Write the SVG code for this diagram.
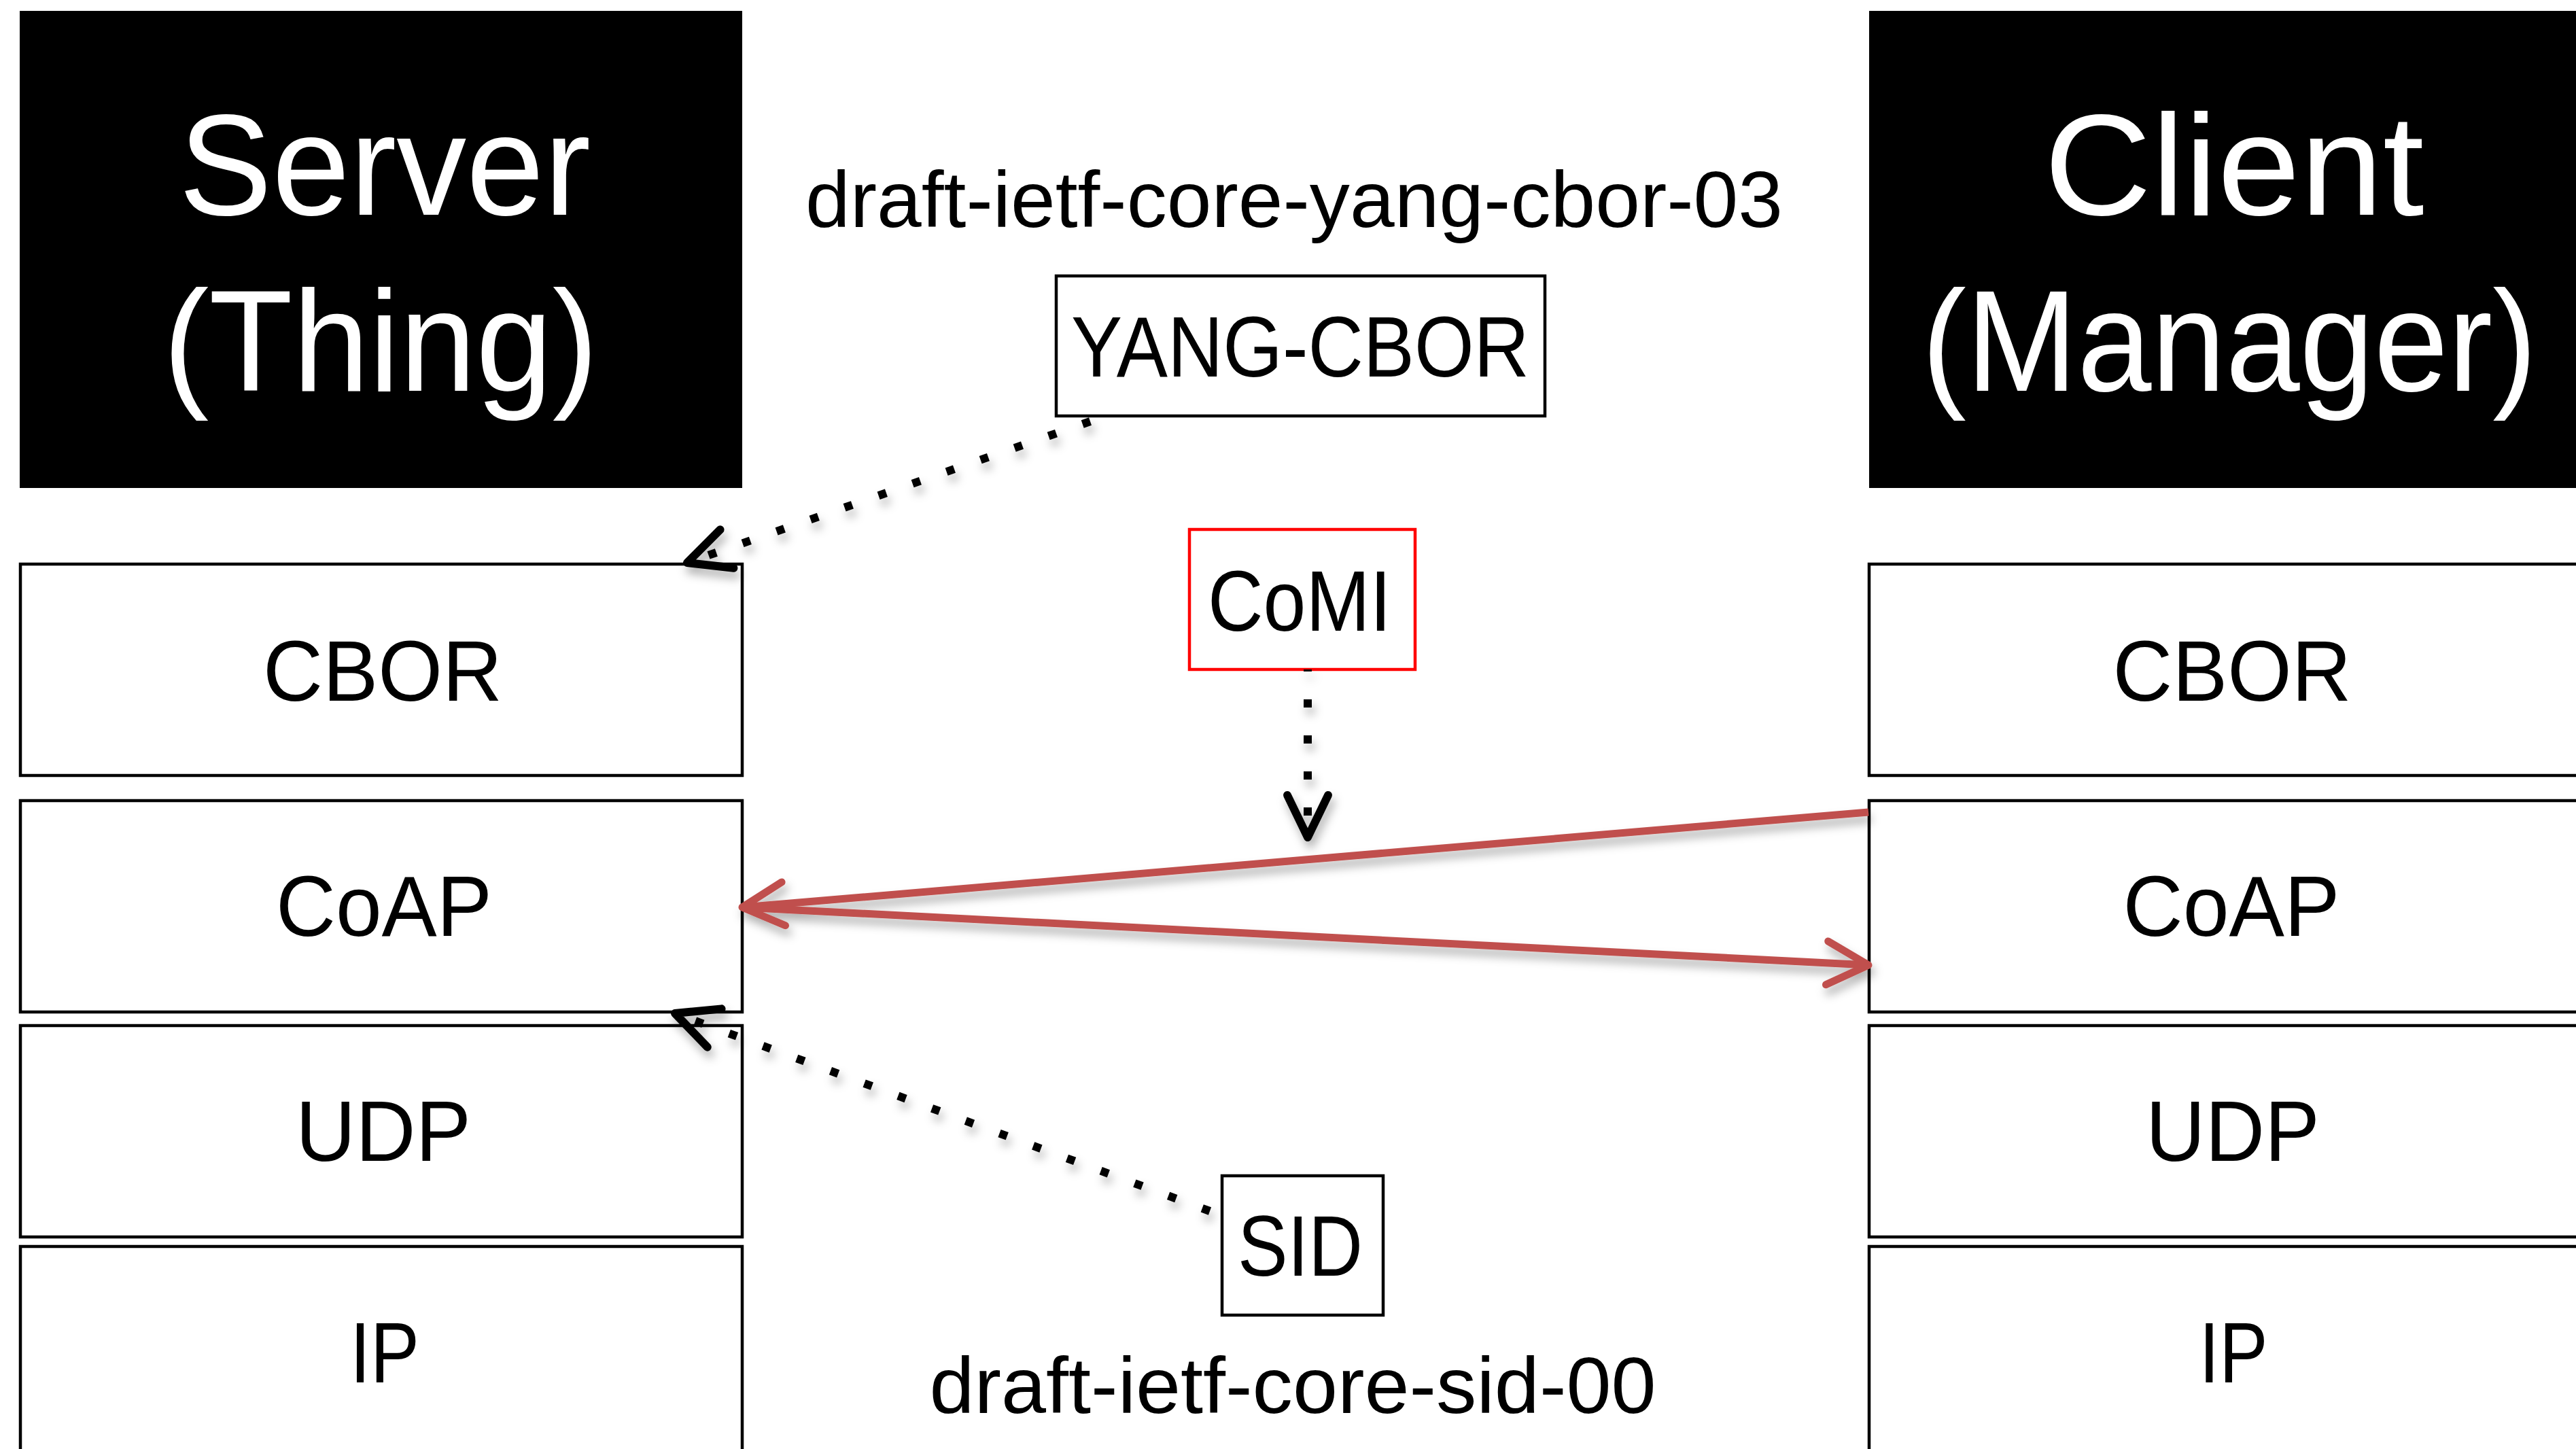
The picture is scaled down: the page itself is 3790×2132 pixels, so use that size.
<svg xmlns="http://www.w3.org/2000/svg" width="3790" height="2132" viewBox="0 0 3790 2132">
  <style>
    .hdr { fill: #000; }
    .hdrtxt { font-family: "Liberation Sans", Arial, sans-serif; font-size: 212px; fill: #fff; text-anchor: middle; }
    .box { fill: #fff; stroke: #000; stroke-width: 4.5; }
    .redbox { fill: #fff; stroke: #ff0000; stroke-width: 4.5; }
    .lbl { font-family: "Liberation Sans", Arial, sans-serif; font-size: 126px; fill: #000; text-anchor: middle; }
    .draft { font-family: "Liberation Sans", Arial, sans-serif; font-size: 117px; fill: #000; text-anchor: middle; }
    .dotted { fill: none; stroke: #000; stroke-width: 12; stroke-dasharray: 12 41; stroke-linecap: butt; }
    .red { fill: none; stroke: #C0504D; stroke-width: 11; stroke-linecap: butt; }
  </style>
  <defs>
    <filter id="shadow" filterUnits="userSpaceOnUse" x="0" y="0" width="3790" height="2132">
      <feDropShadow dx="4" dy="10" stdDeviation="7" flood-color="#000" flood-opacity="0.3"/>
    </filter>
    <marker id="blackHead" markerUnits="userSpaceOnUse" orient="auto" refX="0" refY="0" markerWidth="10" markerHeight="10" overflow="visible">
      <path d="M-62,-30 L0,0 L-62,30" fill="none" stroke="#000" stroke-width="12" stroke-linecap="round" stroke-linejoin="round"/>
    </marker>
    <marker id="redHead" markerUnits="userSpaceOnUse" orient="auto" refX="0" refY="0" markerWidth="10" markerHeight="10" overflow="visible">
      <path d="M-61,-32 L0,0 L-61,32" fill="none" stroke="#C0504D" stroke-width="11" stroke-linecap="round" stroke-linejoin="round"/>
    </marker>
  </defs>

  <rect width="3790" height="2132" fill="#fff"/>

  <g id="server">
    <rect class="hdr" x="29" y="16" width="1063" height="702"/>
    <text class="hdrtxt" x="566" y="316" textLength="606" lengthAdjust="spacingAndGlyphs">Server</text>
    <text class="hdrtxt" x="560" y="575" textLength="640" lengthAdjust="spacingAndGlyphs">(Thing)</text>
  </g>

  <g id="client">
    <rect class="hdr" x="2750" y="16" width="1040" height="702"/>
    <text class="hdrtxt" x="3287" y="316" textLength="559" lengthAdjust="spacingAndGlyphs">Client</text>
    <text class="hdrtxt" x="3280" y="575" textLength="905" lengthAdjust="spacingAndGlyphs">(Manager)</text>
  </g>

  <g id="draft-yang-cbor">
    <text class="draft" x="1904" y="334" textLength="1438" lengthAdjust="spacingAndGlyphs">draft-ietf-core-yang-cbor-03</text>
  </g>

  <g id="yang-cbor">
    <rect class="box" x="1554" y="406" width="719" height="206"/>
    <text class="lbl" x="1913" y="554" textLength="674" lengthAdjust="spacingAndGlyphs">YANG-CBOR</text>
  </g>

  <g id="comi">
    <rect class="redbox" x="1750" y="779" width="332" height="206"/>
    <text class="lbl" x="1912" y="928" textLength="270" lengthAdjust="spacingAndGlyphs">CoMI</text>
  </g>

  <g id="sid">
    <rect class="box" x="1798" y="1730" width="237" height="205"/>
    <text class="lbl" x="1913" y="1877" textLength="184" lengthAdjust="spacingAndGlyphs">SID</text>
  </g>

  <g id="draft-sid">
    <text class="draft" x="1902" y="2079" textLength="1069" lengthAdjust="spacingAndGlyphs">draft-ietf-core-sid-00</text>
  </g>

  <g id="server-cbor">
    <rect class="box" x="30" y="830" width="1062" height="311"/>
    <text class="lbl" x="563" y="1031" textLength="352" lengthAdjust="spacingAndGlyphs">CBOR</text>
  </g>
  <g id="server-coap">
    <rect class="box" x="30" y="1178" width="1062" height="311"/>
    <text class="lbl" x="565" y="1377" textLength="318" lengthAdjust="spacingAndGlyphs">CoAP</text>
  </g>
  <g id="server-udp">
    <rect class="box" x="30" y="1509" width="1062" height="311"/>
    <text class="lbl" x="564" y="1708" textLength="258" lengthAdjust="spacingAndGlyphs">UDP</text>
  </g>
  <g id="server-ip">
    <rect class="box" x="30" y="1834" width="1062" height="330"/>
    <text class="lbl" x="566" y="2034" textLength="102" lengthAdjust="spacingAndGlyphs">IP</text>
  </g>

  <g id="client-cbor">
    <rect class="box" x="2750" y="830" width="1063" height="311"/>
    <text class="lbl" x="3284" y="1031" textLength="351" lengthAdjust="spacingAndGlyphs">CBOR</text>
  </g>
  <g id="client-coap">
    <rect class="box" x="2750" y="1178" width="1063" height="311"/>
    <text class="lbl" x="3283" y="1377" textLength="319" lengthAdjust="spacingAndGlyphs">CoAP</text>
  </g>
  <g id="client-udp">
    <rect class="box" x="2750" y="1509" width="1063" height="311"/>
    <text class="lbl" x="3285" y="1708" textLength="256" lengthAdjust="spacingAndGlyphs">UDP</text>
  </g>
  <g id="client-ip">
    <rect class="box" x="2750" y="1834" width="1063" height="330"/>
    <text class="lbl" x="3286" y="2034" textLength="101" lengthAdjust="spacingAndGlyphs">IP</text>
  </g>

  <g id="connectors" filter="url(#shadow)">
    <path class="dotted" d="M1604,620 L1011,828" marker-end="url(#blackHead)"/>
    <path class="dotted" d="M1924,985 L1924,1232" stroke-dashoffset="9" marker-end="url(#blackHead)"/>
    <path class="dotted" d="M1780,1782 L993,1491" marker-end="url(#blackHead)"/>
    <path class="red" d="M2749,1195 L1092,1335" marker-end="url(#redHead)"/>
    <path class="red" d="M1092,1335 L2749,1420" marker-end="url(#redHead)"/>
  </g>
</svg>
